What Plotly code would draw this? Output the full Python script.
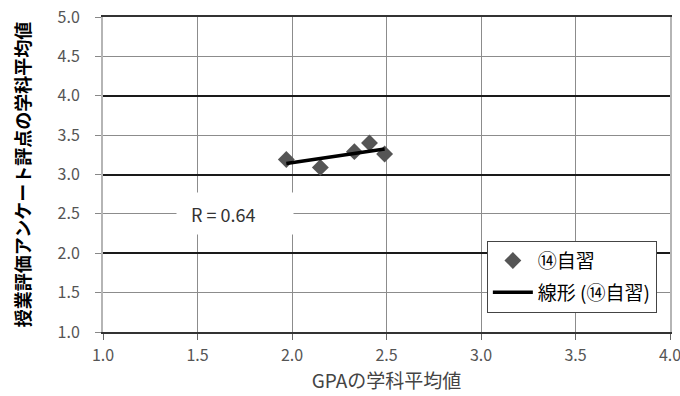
import numpy as np
import plotly.graph_objects as go

gpa = [1.97, 2.15, 2.33, 2.41, 2.49]
score = [3.19, 3.09, 3.29, 3.40, 3.26]
series_name = "⑭自習"
trend_name = "線形 (⑭自習)"
x_title = "GPAの学科平均値"
y_title = "授業評価アンケート評点の学科平均値"
r_label = "R = 0.64"

slope, intercept = np.polyfit(gpa, score, 1)
trend_x = [min(gpa), max(gpa)]
trend_y = [slope * v + intercept for v in trend_x]

FONT = "Noto Sans CJK JP"

fig = go.Figure()
fig.add_trace(go.Scatter(
    x=gpa, y=score, mode="markers", name=series_name, legendgroup="a",
    marker=dict(symbol="diamond", size=13, color="#555555", line=dict(width=0)),
))
fig.add_trace(go.Scatter(
    x=trend_x, y=trend_y, mode="lines", name=trend_name, legendgroup="b",
    line=dict(color="black", width=3.5),
))
# helper trace to host the dark integer gridlines
fig.add_trace(go.Scatter(x=[None], y=[None], yaxis="y2", showlegend=False, hoverinfo="skip"))

fig.add_annotation(
    x=1.70, y=2.5, xref="x", yref="y", text="&nbsp;&nbsp;" + r_label, showarrow=False,
    bgcolor="white", width=104, height=29, borderpad=6, align="left",
    font=dict(family=FONT, size=18, color="#333333"),
)

fig.update_layout(
    width=680, height=396,
    margin=dict(l=103, r=10, t=17, b=64),
    plot_bgcolor="white", paper_bgcolor="white",
    font=dict(family=FONT, color="#444444"),
    xaxis=dict(
        range=[1.0, 4.0], dtick=0.5, tickformat=".1f",
        showgrid=True, gridcolor="#8c8c8c", gridwidth=1,
        showline=True, linecolor="#333333", linewidth=1.5, mirror=True,
        ticks="outside", ticklen=6, tickcolor="#666666",
        tickfont=dict(family=FONT, size=16, color="#555555"),
        ticklabeloverflow="allow", ticklabelstandoff=2,
        title=dict(text=x_title, font=dict(family=FONT, size=19, color="#444444"), standoff=0),
        zeroline=False, automargin=False,
    ),
    yaxis=dict(
        range=[1.0, 5.0], dtick=0.5, tickformat=".1f",
        showgrid=True, gridcolor="#8c8c8c", gridwidth=1,
        showline=True, linecolor="#b5b5b5", linewidth=2, mirror=True,
        ticks="outside", ticklen=6, tickcolor="#888888",
        tickfont=dict(family=FONT, size=16, color="#555555"),
        ticklabeloverflow="allow", ticklabelstandoff=12,
        title=dict(text=y_title, font=dict(family=FONT, size=18, color="black", weight="bold"), standoff=22),
        zeroline=False, automargin=False,
    ),
    yaxis2=dict(
        overlaying="y", matches="y", range=[1.0, 5.0], dtick=1,
        showgrid=True, gridcolor="#1a1a1a", gridwidth=1.5,
        showticklabels=False, ticks="", showline=False, zeroline=False,
    ),
    legend=dict(
        x=0.677, y=0.29, xanchor="left", yanchor="top",
        bgcolor="white", bordercolor="#444444", borderwidth=1,
        font=dict(family=FONT, size=19, color="black"),
        traceorder="grouped", tracegroupgap=4, itemwidth=40,
    ),
    showlegend=True,
)

fig.write_html("out.html", config={"displayModeBar": False},
               post_script="document.body.style.margin='0';")
